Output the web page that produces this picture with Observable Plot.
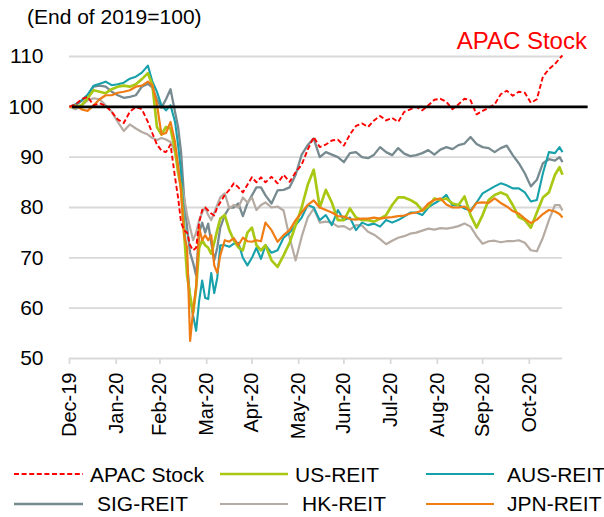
<!DOCTYPE html>
<html>
<head>
<meta charset="utf-8">
<script src="https://cdn.jsdelivr.net/npm/d3@7"></script>
<script src="https://cdn.jsdelivr.net/npm/@observablehq/plot@0.6"></script>
<style>
  html, body { margin: 0; padding: 0; background: #fff; }
  #wrap { position: relative; width: 604px; height: 517px; overflow: hidden; font-family: "Liberation Sans", Arial, sans-serif; }
  #chart { position: absolute; left: 0; top: 0; }
  #overlay { position: absolute; left: 0; top: 0; pointer-events: none; }
</style>
</head>
<body>
<div id="wrap"><div id="chart"></div><svg id="overlay" width="604" height="517"></svg></div>
<script>
// ---------------- data ----------------
const dates = [
"2019-12-31","2020-01-04","2020-01-08","2020-01-12","2020-01-16","2020-01-20","2020-01-24","2020-01-28","2020-02-01","2020-02-05",
"2020-02-09","2020-02-13","2020-02-17","2020-02-21","2020-02-24","2020-02-27","2020-03-01","2020-03-04","2020-03-07","2020-03-10",
"2020-03-12","2020-03-14","2020-03-16","2020-03-18","2020-03-20","2020-03-22","2020-03-24","2020-03-26","2020-03-28","2020-03-30",
"2020-04-01","2020-04-03","2020-04-05","2020-04-07","2020-04-09","2020-04-12","2020-04-15","2020-04-18","2020-04-21","2020-04-24",
"2020-04-27","2020-04-30","2020-05-03","2020-05-06","2020-05-09","2020-05-13","2020-05-17","2020-05-21","2020-05-25","2020-05-29",
"2020-06-02","2020-06-06","2020-06-10","2020-06-14","2020-06-18","2020-06-22","2020-06-26","2020-06-30","2020-07-04","2020-07-08",
"2020-07-12","2020-07-16","2020-07-20","2020-07-24","2020-07-28","2020-08-01","2020-08-05","2020-08-09","2020-08-13","2020-08-17",
"2020-08-21","2020-08-25","2020-08-29","2020-09-02","2020-09-06","2020-09-10","2020-09-14","2020-09-18","2020-09-22","2020-09-26",
"2020-09-30","2020-10-04","2020-10-08","2020-10-12","2020-10-16","2020-10-20","2020-10-24","2020-10-28","2020-11-01","2020-11-05",
"2020-11-09","2020-11-13","2020-11-17","2020-11-20","2020-11-22"
];

const apacStock = [
100,100.5,101.5,102,100.3,100.7,100.2,99,97.5,96.8,
99,100,99.5,97,94.7,92.5,91.3,91,92.5,86,
82,77,75.5,75,72.5,71.5,72,77,79.5,80,
79.4,78.8,78.4,80,81,82.5,83.5,84.8,84,83,
84.5,86,85,86,85,86.1,84.8,86.5,85.1,87,
88.5,91.5,94,92,92.5,93.3,93.5,92.3,94.5,96.2,
96.7,96,97.3,98.2,97.3,97.8,97,99,99.5,100,
99.3,100.3,101.4,101.6,101,99.5,100.5,101.6,101.3,98.5,
99.2,99.8,100.5,102.5,103.2,102.2,103,102.8,100.8,101.5,
106,107.5,108.5,109.6,110.2
];
const usReit = [
100,100,100.3,101.7,103.3,103,102.7,103.5,104,104.2,
104,104.5,105.5,106.7,104.3,96,94.5,96,95.7,91.5,
87,84,75,66.5,62.5,59,64,72,73.5,72.5,
72,70.8,73,75.5,77.8,78.5,75.5,73.5,72.1,71.5,
75,76,72.5,71.5,72.5,69.5,68.2,70.5,73,76.5,
80,84.5,87.5,80,83.5,81,77.5,77.5,79.8,78,
77.5,77.5,77.2,77.8,78.5,80.5,82,82,81.5,80.8,
79.4,80.2,81.8,81.5,81.8,80.8,80.5,82.2,78.5,76,
78.5,81.5,82.5,83,82.5,80.5,78.1,77.5,76,79,
82,83,86.5,88,86.5
];
const ausReit = [
100,100.5,101.3,102.4,104.2,104.6,105,104.3,104.5,104.8,
105.6,106,106.8,108.2,105,103,100.3,99.3,100.3,97,
92.5,87,77,69,62,58.5,55.5,61.5,65.5,62,
61.8,67,63,66,72.5,72.5,72.2,72.8,73,70,
68.5,70,72,69.8,72.5,71,71.5,74,75,76.5,
78,80.5,80,77.5,78.5,76.5,79.5,77.5,78,75.5,
77,76.5,76.8,76.2,77.5,77,77.5,78.2,79,79,
78.5,80,80.8,81.5,82.5,80.4,80.5,79.8,79.4,81,
82.8,83.5,84.2,84.8,84.4,83.8,83.8,83,81.2,81.5,
86.8,91,90.8,92,91
];
const sigReit = [
100,100.3,101.2,102.3,104,104.2,104,103,102.3,101.8,
102,102.3,104,104.6,103.8,101.5,99.8,101.5,103.5,99,
96,91,82,76,71,69,66.5,75,77,75,
76.8,73,69.5,72,76,78.5,80,80,80.8,78.3,
80.8,82.4,84,84,82.4,80.8,83.4,83.5,84,86.5,
90.5,92.4,93.7,90,91,90.5,90,89,90.8,91,
90,89.8,90.5,92,91,90.4,91.8,90.7,90.2,90.4,
90.8,91.4,90.5,91.5,92,91.6,92.4,92.7,94,92.6,
92,91.8,91,91.8,92.3,90.4,88.8,86.8,84.2,85.5,
88.8,89.6,89.3,90,89
];
const hkReit = [
100,99.5,100.3,101.3,101.7,101.5,100.3,99,97,95.2,
96.5,95.7,95,94.5,93.8,93.4,93.8,93.5,93,91,
88,85,82,78.5,76,73.5,75,77.5,79,80,
78.5,77.5,79,80.5,82,82.8,79.8,80.5,80,82,
81,82,79.5,80.5,81,80,80.2,79.4,74,69.5,
74.2,78,79.8,77,77.2,77,76.2,76.3,75.6,76.5,
76.4,75.2,74.6,73.7,72.7,73.4,74,74.3,74.8,75,
75.4,75.8,75.6,75.9,75.8,76,76.3,76.8,76.2,74.3,
72.8,73.3,73.4,73.1,73.3,73.3,73.5,73,71.5,71.3,
74,77.5,80.5,80.5,79.4
];
const jpnReit = [
100,100.3,99.5,99.2,100.3,101.5,102.3,102.3,102.8,103,
103.3,104,104.2,105,104.3,100.5,94.5,94.8,97,93,
88.4,83,74.5,72,53.5,59.5,64.2,76,73.5,74.5,
73.5,74.5,68.5,67,70.5,73.5,73.2,73.9,72.5,74,
73.3,73.2,73.5,73.3,77,75.5,73.2,74.5,75.5,77.5,
79,80.5,81.4,80,79.5,79,78.3,78.2,77.7,77.6,
77.8,77.8,78,77.8,78,78.1,78.3,78.4,78.8,79,
79.4,80.8,81.5,81.8,80.6,80,80,80.2,79.2,80.9,
81,80.9,81.8,80.9,80.2,79.3,78.8,77.8,76.9,77.6,
78.7,79.5,79.2,78.7,78
];

const seriesNames = ["APAC Stock", "US-REIT", "AUS-REIT", "SIG-REIT", "HK-REIT", "JPN-REIT"];
const seriesValues = [apacStock, usReit, ausReit, sigReit, hkReit, jpnReit];

const yTicks = [50, 60, 70, 80, 90, 100, 110];
const xTickDates = ["2019-12-31","2020-01-31","2020-02-29","2020-03-31","2020-04-30","2020-05-31","2020-06-30","2020-07-31","2020-08-31","2020-09-30","2020-10-31"];
const xTickLabels = ["Dec-19","Jan-20","Feb-20","Mar-20","Apr-20","May-20","Jun-20","Jul-20","Aug-20","Sep-20","Oct-20"];
const xDomain = ["2019-12-31", "2020-11-22"];
const baseline = 100;
const baselineSpan = ["2020-01-02", "2020-12-09"];
const titleText = "(End of 2019=100)";
const calloutText = "APAC Stock";
const calloutAt = {date: "2020-10-26", value: 113};

// ---------------- styles ----------------
const styles = {
  "APAC Stock": {color: "#ff0000", width: 1.9, dash: "5,2.6"},
  "US-REIT":    {color: "#a8c814", width: 2.7, dash: null},
  "AUS-REIT":   {color: "#17a1ab", width: 2.1, dash: null},
  "SIG-REIT":   {color: "#768a8f", width: 2.3, dash: null},
  "HK-REIT":    {color: "#b5aba3", width: 2.2, dash: null},
  "JPN-REIT":   {color: "#f07c14", width: 2.2, dash: null}
};
const drawOrder = ["SIG-REIT", "HK-REIT", "AUS-REIT", "US-REIT", "JPN-REIT", "APAC Stock"];

const parse = s => new Date(s);
const table = seriesNames.flatMap((name, k) =>
  dates.map((d, i) => ({series: name, date: parse(d), value: seriesValues[k][i]})));
const tickDates = xTickDates.map(parse);
const fmt = d => { const i = tickDates.findIndex(t => +t === +d); return i >= 0 ? xTickLabels[i] : ""; };

const font = "'Liberation Sans', Arial, sans-serif";

const lineMarks = drawOrder.map(name => {
  const s = styles[name];
  return Plot.line(table.filter(r => r.series === name), {
    x: "date", y: "value", stroke: s.color, strokeWidth: s.width,
    strokeDasharray: s.dash || undefined, strokeLinejoin: "round", strokeLinecap: "butt"
  });
});

const chart = Plot.plot({
  width: 604, height: 460,
  marginTop: 56, marginBottom: 102, marginLeft: 69, marginRight: 42,
  style: {fontFamily: font, fontSize: "21px", color: "#000", background: "transparent", overflow: "visible"},
  x: {type: "utc", domain: xDomain.map(parse)},
  y: {domain: [50, 110]},
  marks: [
    Plot.gridY(yTicks, {stroke: "#d9d9d9", strokeOpacity: 1, strokeWidth: 1.8}),
    Plot.axisY(yTicks, {tickSize: 0, tickPadding: 26, fontSize: 21, fill: "#000", label: null}),
    Plot.axisX(tickDates, {tickSize: 6, tickPadding: 8, tickRotate: -90, tickFormat: fmt,
      stroke: "#d9d9d9", strokeWidth: 1.8, fill: "#000", fontSize: 20, label: null}),
    ...lineMarks,
    Plot.ruleY([baseline], {x1: parse(baselineSpan[0]), x2: parse(baselineSpan[1]), stroke: "#000", strokeWidth: 2.6}),
    Plot.text([calloutAt], {x: d => parse(d.date), y: "value", text: () => calloutText,
      fill: "#ff0000", fontSize: 24, lineAnchor: "middle", textAnchor: "middle"})
  ]
});
document.getElementById("chart").appendChild(chart);

// ---------------- title + legend ----------------
const ov = d3.select("#overlay").style("font-family", font);
ov.append("text").attr("x", 27).attr("y", 24).attr("font-size", 21).attr("fill", "#000").text(titleText);

const legendLineX = [[14, 83], [220, 288], [426, 494]];
const legendTextX = [[90, 295, 507], [97, 302, 507]];
const legendLineY = [474, 504];
const legendTextY = [482, 511];
seriesNames.forEach((name, k) => {
  const row = Math.floor(k / 3), col = k % 3, s = styles[name];
  ov.append("line")
    .attr("x1", legendLineX[col][0]).attr("x2", legendLineX[col][1])
    .attr("y1", legendLineY[row]).attr("y2", legendLineY[row])
    .attr("stroke", s.color).attr("stroke-width", s.width)
    .attr("stroke-dasharray", s.dash);
  ov.append("text").attr("x", legendTextX[row][col]).attr("y", legendTextY[row])
    .attr("font-size", 21).attr("fill", "#000").text(name);
});
</script>
</body>
</html>
